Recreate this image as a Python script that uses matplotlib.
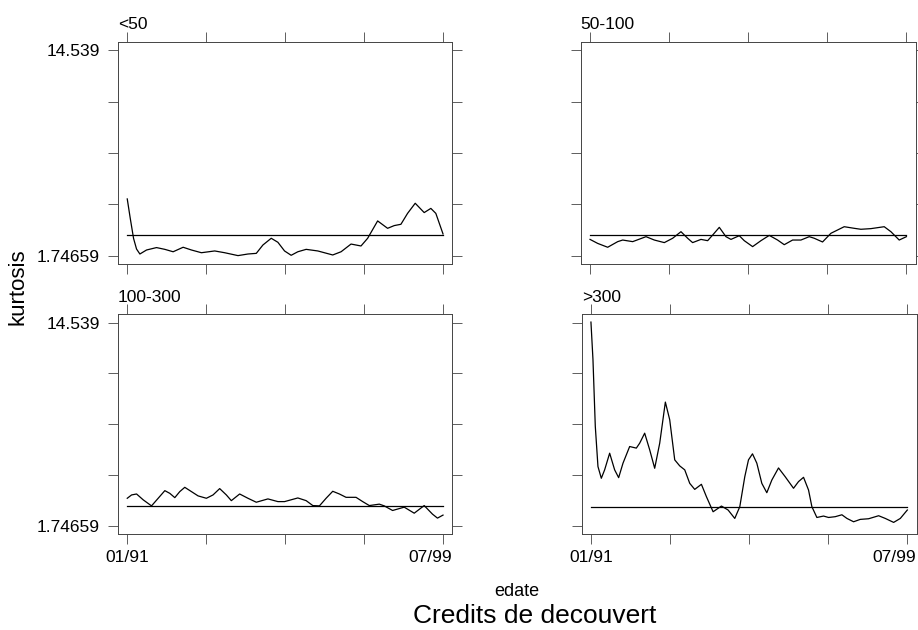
import matplotlib.pyplot as plt
from matplotlib.transforms import ScaledTranslation

plt.rcParams['font.family'] = ['Liberation Sans', 'DejaVu Sans']

# months since 01/91 (0 = 01/91, 102 = 07/99)
months_lt50 = [0, 0.97, 2.04, 3.0, 4.08, 6.23, 9.45, 12.14, 14.82, 18.05, 20.73, 23.95,
               28.25, 31.47, 35.77, 38.99, 41.68, 43.82, 46.51, 48.66, 50.81, 52.95,
               55.1, 57.79, 61.55, 66.38, 69.07, 72.29, 75.51, 77.66, 80.88, 84.1,
               86.25, 88.4, 90.55, 93.02, 95.92, 98.07, 99.68, 102]
kurt_lt50 = [5.28, 4.07, 2.82, 2.16, 1.85, 2.10, 2.25, 2.14, 1.99, 2.27, 2.10, 1.93,
             2.04, 1.93, 1.75, 1.85, 1.89, 2.41, 2.83, 2.58, 2.04, 1.77,
             1.99, 2.14, 2.04, 1.79, 1.99, 2.47, 2.35, 2.83, 3.91, 3.45,
             3.62, 3.70, 4.38, 5.01, 4.43, 4.69, 4.38, 3.10]

months_50_100 = [0, 2.47, 5.69, 8.92, 10.53, 13.75, 18.05, 20.73, 23.95, 26.64, 29.32,
                 31.47, 33.08, 35.77, 37.92, 39.53, 41.68, 43.82, 45.44, 48.12, 49.73,
                 52.42, 55.1, 57.79, 60.47, 62.62, 65.31, 67.99, 70.68, 72.29, 74.97,
                 77.66, 81.95, 85.18, 87.33, 90.55, 94.85, 97.0, 99.68, 102]
kurt_50_100 = [2.76, 2.51, 2.27, 2.62, 2.72, 2.62, 2.93, 2.72, 2.56, 2.83, 3.24,
               2.83, 2.56, 2.76, 2.68, 3.03, 3.51, 2.93, 2.76, 2.99, 2.68,
               2.31, 2.68, 3.01, 2.72, 2.43, 2.72, 2.72, 2.93, 2.83, 2.60,
               3.14, 3.55, 3.45, 3.39, 3.43, 3.55, 3.24, 2.72, 2.93]

months_100_300 = [0, 1.40, 3.01, 5.16, 7.84, 9.99, 12.14, 13.75, 15.36, 16.97, 18.58,
                  20.73, 22.88, 25.56, 27.71, 29.86, 32.01, 33.62, 36.31, 38.99, 41.68,
                  45.44, 48.66, 50.81, 55.10, 57.79, 59.94, 62.08, 64.23, 66.38, 68.53,
                  70.68, 73.90, 76.05, 78.20, 81.42, 83.03, 85.71, 89.47, 92.70, 95.92,
                  98.60, 100.21, 102]
kurt_100_300 = [3.48, 3.69, 3.75, 3.38, 3.00, 3.48, 3.96, 3.79, 3.52, 3.90, 4.17,
                3.90, 3.63, 3.48, 3.69, 4.09, 3.69, 3.33, 3.75, 3.48, 3.23,
                3.44, 3.27, 3.27, 3.50, 3.33, 3.02, 3.00, 3.48, 3.92, 3.75,
                3.54, 3.54, 3.27, 3.02, 3.11, 3.00, 2.71, 2.92, 2.54, 3.02,
                2.48, 2.23, 2.42]

months_gt300 = [0, 0.65, 1.40, 2.26, 3.34, 4.41, 6.03, 7.64, 8.93, 10.33, 12.48,
                14.63, 15.71, 17.32, 18.94, 20.55, 22.17, 23.99, 25.39, 27.01, 28.62,
                30.24, 31.85, 33.46, 35.61, 37.23, 39.38, 42.07, 44.22, 46.37, 47.99,
                49.6, 50.79, 52.08, 53.48, 55.09, 56.70, 58.32, 60.47, 62.62, 65.31,
                66.92, 68.54, 70.15, 71.23, 72.84, 74.99, 76.61, 78.76, 80.91, 82.53,
                84.68, 86.83, 89.52, 92.75, 94.9, 97.59, 99.74, 102]
kurt_gt300 = [14.58, 12.22, 8.01, 5.48, 4.74, 5.27, 6.32, 5.27, 4.78, 5.69, 6.74,
              6.64, 6.95, 7.58, 6.53, 5.37, 6.95, 9.54, 8.43, 5.90, 5.52,
              5.27, 4.42, 4.04, 4.36, 3.58, 2.63, 2.99, 2.74, 2.21, 2.95,
              4.84, 5.90, 6.28, 5.69, 4.42, 3.83, 4.63, 5.39, 4.84, 4.11,
              4.53, 4.80, 4.00, 2.95, 2.27, 2.36, 2.27, 2.32, 2.44, 2.21,
              2.00, 2.15, 2.19, 2.38, 2.21, 1.96, 2.21, 2.74]

# horizontal reference level per panel
ref_levels = [3.02, 3.03, 2.98, 2.95]

titles = ['<50', '50-100', '100-300', '>300']
y_ticks = [1.74659, 4.944675, 8.14276, 11.340845, 14.539]
y_ticklabels = ['1.74659', '', '', '', '14.539']
x_ticks = [0, 25.5, 51, 76.5, 102]
x_ticklabels = ['01/91', '', '', '', '07/99']

series = [(months_lt50, kurt_lt50), (months_50_100, kurt_50_100),
          (months_100_300, kurt_100_300), (months_gt300, kurt_gt300)]

fig = plt.figure(figsize=(9.18, 6.30), dpi=100)

# [left, bottom, width, height] in figure fraction
boxes = [[0.1285, 0.5805, 0.3642, 0.3533],
         [0.6326, 0.5805, 0.3649, 0.3533],
         [0.1285, 0.1519, 0.3642, 0.3492],
         [0.6336, 0.1519, 0.3649, 0.3492]]

for i, (box, (mx, ky)) in enumerate(zip(boxes, series)):
    ax = fig.add_axes(box)
    ax.plot(mx, ky, color='black', lw=0.9, solid_joinstyle='round')
    ref = ref_levels[i]
    ax.plot([mx[0], mx[-1]], [ref, ref], color='black', lw=0.9)

    ax.set_xlim(-3, 105)
    ax.set_ylim(1.21, 15.07)
    ax.set_xticks(x_ticks)
    ax.set_yticks(y_ticks)
    if i >= 2:
        ax.set_xticklabels(x_ticklabels)
    else:
        ax.set_xticklabels([''] * 5)
    if i % 2 == 0:
        ax.set_yticklabels(y_ticklabels)
    else:
        ax.set_yticklabels([''] * 5)

    ax.tick_params(direction='out', length=7, width=0.6, color='#444444',
                   top=True, right=True, labelsize=12.5, pad=4)
    ax.tick_params(axis='y', pad=6)
    for sp in ax.spines.values():
        sp.set_linewidth(0.7)
        sp.set_color('#444444')

    if i >= 2:
        last = ax.get_xticklabels()[-1]
        last.set_horizontalalignment('right')
        last.set_transform(last.get_transform() +
                           ScaledTranslation(0.09, 0, fig.dpi_scale_trans))

    ax.annotate(titles[i], xy=(0, 1), xycoords='axes fraction',
                xytext=(0, 9), textcoords='offset points',
                ha='left', va='baseline', fontsize=12.5)

fig.text(18 / 918, 1 - 287 / 630, 'kurtosis', rotation=90,
         ha='center', va='center', fontsize=16)
fig.text(517 / 918, 1 - 596 / 630, 'edate', ha='center', va='baseline', fontsize=13)
fig.text(535 / 918, 1 - 623 / 630, 'Credits de decouvert', ha='center',
         va='baseline', fontsize=19)

fig.savefig('out.png', dpi=100)
